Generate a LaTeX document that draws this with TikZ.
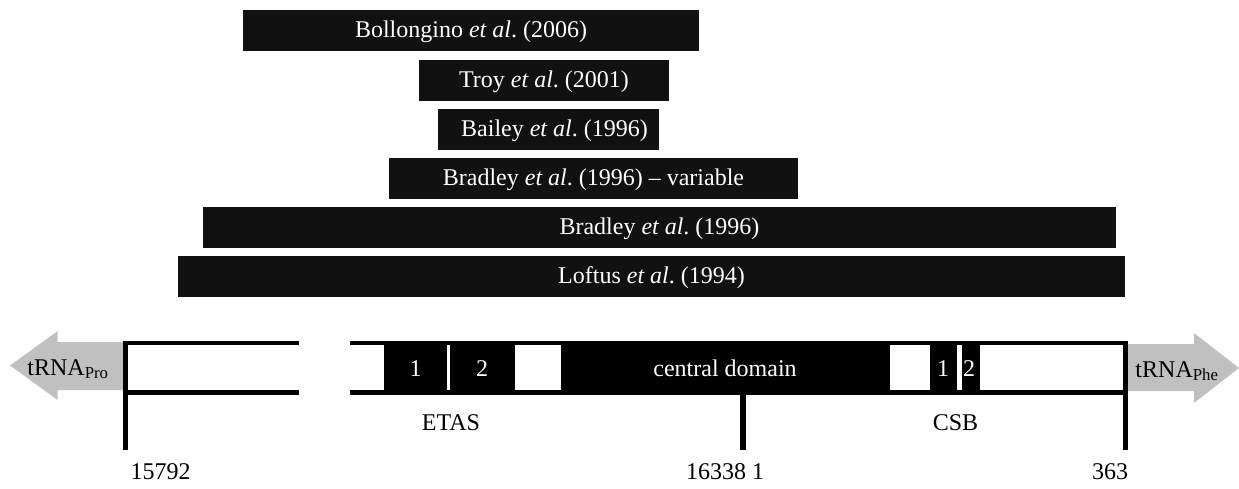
\documentclass[tikz,border=0pt]{standalone}
\usepackage{fontspec}
\setmainfont{Liberation Serif}
\frenchspacing
\definecolor{barblack}{HTML}{111111}
\definecolor{arrowgray}{HTML}{C0C0C0}
\tikzset{
  refbar/.style={fill=barblack, text=white, inner sep=0pt, minimum height=40.7pt,
    text height=16pt, text depth=2pt, font=\fontsize{24}{28}\selectfont},
  lbl/.style={inner sep=0pt, anchor=base, font=\fontsize{24}{28}\selectfont},
  wlbl/.style={lbl, text=white},
  band/.style={fill=black},
  gap/.style={fill=white},
  trna/.style={fill=arrowgray},
}
\begin{document}
\begin{tikzpicture}[x=1pt,y=-1pt]
\useasboundingbox (0,0) rectangle (1239,488);
% reference bars
\node[refbar, minimum width=456pt] (bol) at (471,30.35) {Bollongino \textit{et al}. (2006)};
\node[refbar, minimum width=250pt] (troy) at (544,80.35) {Troy \textit{et al}. (2001)};
\node[refbar, minimum width=221pt] (bai) at (548.5,129.35) {\hspace{12pt}Bailey \textit{et al}. (1996)};
\node[refbar, minimum width=409pt] (bradv) at (593.5,178.35) {Bradley \textit{et al}. (1996) -- variable};
\node[refbar, minimum width=913pt] (brad) at (659.5,227.35) {Bradley \textit{et al}. (1996)\hspace{18pt}};
\node[refbar, minimum width=947pt] (lof) at (651.5,276.35) {Loftus \textit{et al}. (1994)};
% gray tRNA arrows
\fill[trna] (123,342) -- (57.7,342) -- (57.7,331) -- (10,365.5) -- (57.7,400) -- (57.7,390) -- (123,390) -- cycle;
\fill[trna] (1128,344) -- (1194,344) -- (1194,333) -- (1239,368) -- (1194,403) -- (1194,391) -- (1128,391) -- cycle;
% band outline
\fill[band] (123,341) rectangle (299,345);
\fill[band] (123,390) rectangle (299,395);
\fill[band] (350,341) rectangle (1128,345);
\fill[band] (350,390) rectangle (1128,395);
\fill[band] (122.7,341) rectangle (128,450);
\fill[band] (1122.7,341) rectangle (1128,450);
\fill[band] (740,395) rectangle (746,450);
% filled regions
\fill[band] (384,341) rectangle (890,395);
\fill[gap] (447.3,345) rectangle (449.5,390);
\fill[gap] (515,345) rectangle (561,390);
\fill[band] (930,341) rectangle (980,395);
\fill[gap] (956.7,345) rectangle (961.7,390);
% labels in band
\node[wlbl] (e1) at (415.5,376) {1};
\node[wlbl] (e2) at (482,376) {2};
\node[wlbl] (cd) at (725,376) {central domain};
\node[wlbl] (c1) at (943,376) {1};
\node[wlbl] (c2) at (969,376) {2};
\node[lbl] (pro) at (68,375) {tRNA\textsubscript{Pro}};
\node[lbl] (phe) at (1177,377) {tRNA\textsubscript{Phe}};
% labels below
\node[lbl] (etas) at (451,430) {ETAS};
\node[lbl] (csb) at (955.5,430) {CSB};
\node[lbl] (n1) at (160.5,479) {15792};
\node[lbl] (n2) at (725,479) {16338 1};
\node[lbl] (n3) at (1110,479) {363};
\end{tikzpicture}
\end{document}
